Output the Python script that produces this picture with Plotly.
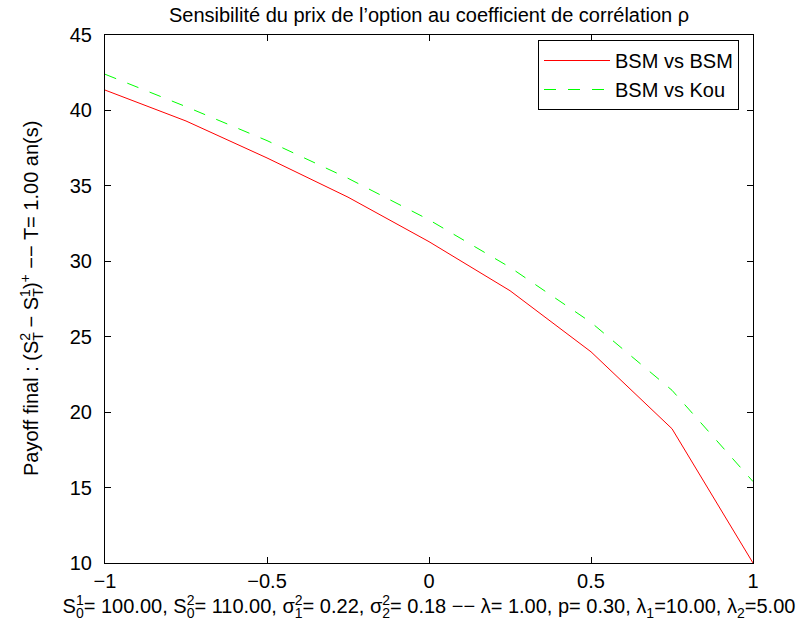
import plotly.graph_objects as go

rho = [-1.0, -0.75, -0.5, -0.25, 0.0, 0.25, 0.5, 0.75, 1.0]
bsm_bsm = [41.35, 39.3, 36.85, 34.25, 31.3, 28.05, 24.0, 18.9, 10.0]
bsm_kou = [42.4, 40.25, 38.0, 35.5, 32.75, 29.6, 25.95, 21.45, 15.4]

x_ticks = [-1, -0.5, 0, 0.5, 1]
y_ticks = [10, 15, 20, 25, 30, 35, 40, 45]

FONT = "Liberation Sans, Arial, Helvetica, sans-serif"
FS = 20

W, H = 805, 632
ML, MR, MT, MB = 105, 52, 35, 69


def stack(base, sub, sup, sw):
    return (f"{base}<sub><span style='letter-spacing:-{sw}px'>{sub}</span></sub>"
            f"<sup>{sup}</sup>")


title_text = "Sensibilité du prix de l’option au coefficient de corrélation ρ"
xlabel = (stack("S", "0", "1", 7.8) + "= 100.00, " + stack("S", "0", "2", 7.8) + "= 110.00, "
          + stack("σ", "1", "2", 7.8) + "= 0.22, " + stack("σ", "2", "2", 7.8) + "= 0.18 −− "
          + "λ= 1.00, p= 0.30, λ<sub>1</sub>=10.00, λ<sub>2</sub>=5.00")
ylabel = ("Payoff final : (" + stack("S", "T", "2", 8.6) + " − " + stack("S", "T", "1", 8.6)
          + ")<sup>+</sup> −− T= 1.00 an(s)")

fig = go.Figure()
fig.add_trace(go.Scatter(x=rho, y=bsm_bsm, mode="lines", name="BSM vs BSM",
                         line=dict(color="#ff0000", width=1)))
fig.add_trace(go.Scatter(x=rho, y=bsm_kou, mode="lines", name="BSM vs Kou",
                         line=dict(color="#00ff00", width=1, dash="12px,12px")))

axis_common = dict(showline=True, linecolor="black", linewidth=1, mirror="ticks",
                   ticks="inside", ticklen=6, tickcolor="black", tickwidth=1,
                   showgrid=False, zeroline=False,
                   tickfont=dict(family=FONT, size=FS, color="black"))

pw = W - ML - MR
ph = H - MT - MB

fig.update_layout(
    width=W, height=H,
    paper_bgcolor="white", plot_bgcolor="white",
    margin=dict(l=ML, r=MR, t=MT, b=MB, autoexpand=False),
    font=dict(family=FONT, size=FS, color="black"),
    title=dict(text=title_text, x=0.533, xanchor="center",
               yref="container", y=1 - 15 / H, yanchor="middle",
               font=dict(family=FONT, size=FS, color="black")),
    xaxis=dict(range=[-1, 1], tickvals=x_ticks, ticklabelstandoff=0, **axis_common,
               title=dict(text=xlabel, standoff=2, font=dict(family=FONT, size=FS))),
    yaxis=dict(range=[10, 45], tickvals=y_ticks, ticklabelstandoff=8, **axis_common),
    legend=dict(x=(739 - ML) / pw, y=1 - (40 - MT) / ph, xanchor="right", yanchor="top",
                bgcolor="white", bordercolor="black", borderwidth=1,
                font=dict(family=FONT, size=FS, color="black"),
                itemwidth=66, tracegroupgap=0),
    showlegend=True,
    annotations=[dict(text=ylabel, xref="paper", yref="paper",
                      x=(30 - ML) / pw, y=0.5, xanchor="center", yanchor="middle",
                      textangle=-90, showarrow=False,
                      font=dict(family=FONT, size=FS, color="black"))],
)

fig.write_html("out.html")
